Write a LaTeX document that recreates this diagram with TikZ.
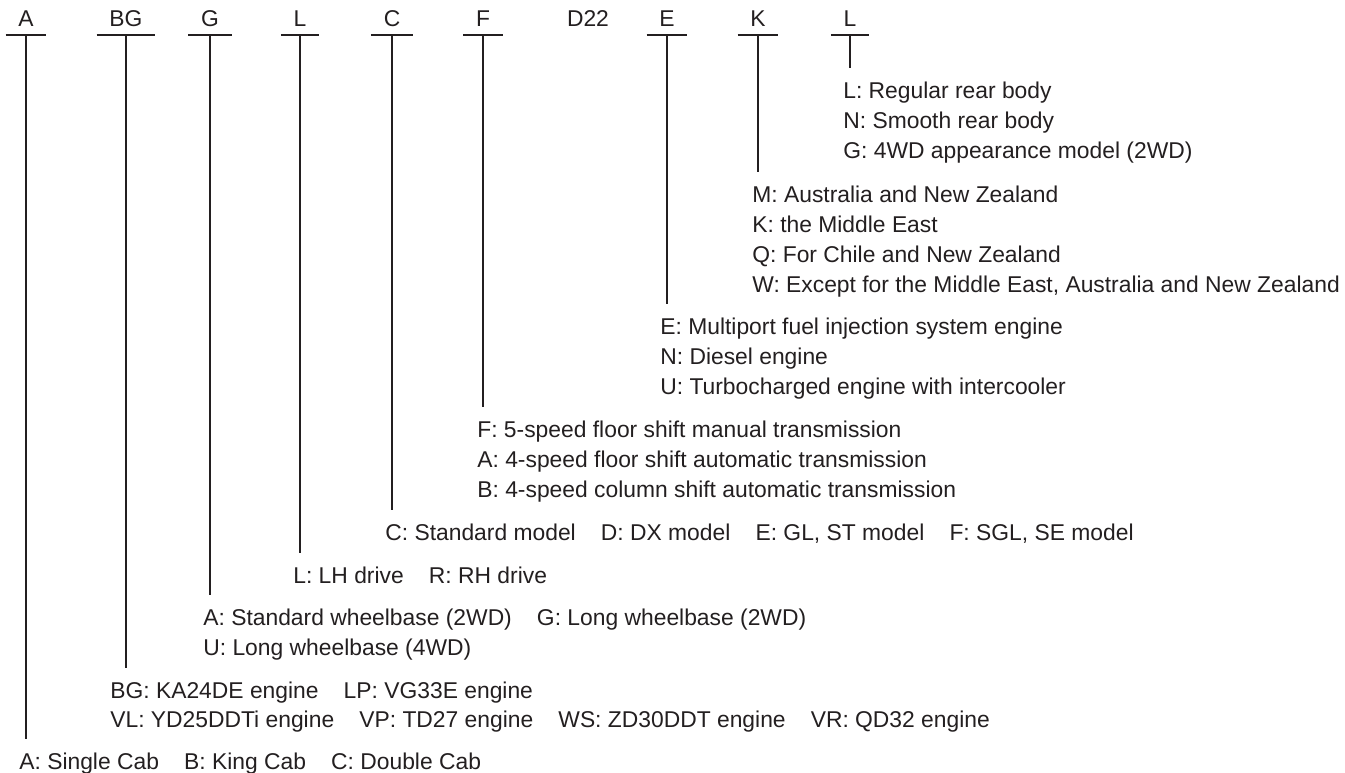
\documentclass[tikz,border=0pt]{standalone}
\usepackage{fontspec}
\setmainfont{Liberation Sans}
\definecolor{ink}{RGB}{35,31,32}
\newcommand{\codegap}{\hspace{1.1em}}

\begin{document}
\begin{tikzpicture}[x=0.2mm, y=-0.2mm,
    every node/.style={font=\fontsize{13}{15}\selectfont, text=ink},
    codebox/.style={anchor=base, inner xsep=2.5mm, inner ysep=1.8mm, text depth=0pt},
    entry/.style={anchor=base west, inner xsep=0pt, inner ysep=2.6mm, text height=3.4mm, text depth=1mm},
    bar/.style={ink, line width=0.44mm},
    stem/.style={ink, line width=0.32mm}
  ]
  \useasboundingbox (0,0) rectangle (1345,773);

  % model code
  \node[codebox] (cA) at (26,26) {A};
  \node[codebox] (cBG) at (126,26) {BG};
  \node[codebox] (cG) at (210,26) {G};
  \node[codebox] (cL) at (300,26) {L};
  \node[codebox] (cC) at (392,26) {C};
  \node[codebox] (cF) at (483,26) {F};
  \node[codebox] (cD) at (588,26) {D22};
  \node[codebox] (cE) at (667,26) {E};
  \node[codebox] (cK) at (758,26) {K};
  \node[codebox] (cR) at (850,26) {L};

  % meanings
  \node[entry] (tR1) at (843,98) {L: Regular rear body};
  \node[entry] (tR2) at (843,128) {N: Smooth rear body};
  \node[entry] (tR3) at (843,158) {G: 4WD appearance model (2WD)};
  \node[entry] (tK1) at (752,202) {M: Australia and New Zealand};
  \node[entry] (tK2) at (752,232) {K: the Middle East};
  \node[entry] (tK3) at (752,262) {Q: For Chile and New Zealand};
  \node[entry] (tK4) at (752,292) {W: Except for the Middle East, Australia and New Zealand};
  \node[entry] (tE1) at (660,334) {E: Multiport fuel injection system engine};
  \node[entry] (tE2) at (660,364) {N: Diesel engine};
  \node[entry] (tE3) at (660,394) {U: Turbocharged engine with intercooler};
  \node[entry] (tF1) at (477,437) {F: 5-speed floor shift manual transmission};
  \node[entry] (tF2) at (477,467) {A: 4-speed floor shift automatic transmission};
  \node[entry] (tF3) at (477,497) {B: 4-speed column shift automatic transmission};
  \node[entry] (tC) at (385,540) {C: Standard model\codegap D: DX model\codegap E: GL, ST model\codegap F: SGL, SE model};
  \node[entry] (tL) at (293,583) {L: LH drive\codegap R: RH drive};
  \node[entry] (tG1) at (203,625) {A: Standard wheelbase (2WD)\codegap G: Long wheelbase (2WD)};
  \node[entry] (tG2) at (203,655) {U: Long wheelbase (4WD)};
  \node[entry] (tBG1) at (110,698) {BG: KA24DE engine\codegap LP: VG33E engine};
  \node[entry] (tBG2) at (110,727) {VL: YD25DDTi engine\codegap VP: TD27 engine\codegap WS: ZD30DDT engine\codegap VR: QD32 engine};
  \node[entry] (tA) at (19,769) {A: Single Cab\codegap B: King Cab\codegap C: Double Cab};

  % underlines and leaders
  \foreach \c/\t in {cA/tA, cBG/tBG1, cG/tG1, cL/tL, cC/tC, cF/tF1, cE/tE1, cK/tK1, cR/tR1} {
    \draw[bar] (\c.south west) -- (\c.south east);
    \draw[stem] (\c.south) -- (\c.south |- \t.north);
  }
\end{tikzpicture}
\end{document}
